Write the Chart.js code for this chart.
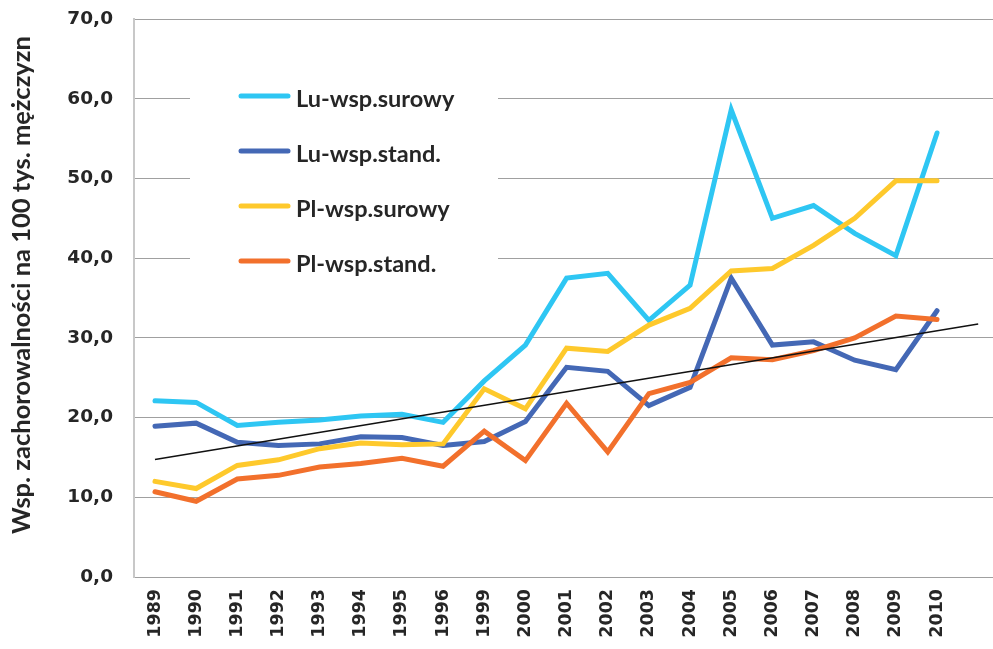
<!DOCTYPE html>
<html>
<head>
<meta charset="utf-8">
<script src="https://cdn.jsdelivr.net/npm/chart.js@4.4.1/dist/chart.umd.min.js"></script>
<style>
  html, body { margin: 0; padding: 0; background: #ffffff; }
  #wrap { width: 993px; height: 649px; }
</style>
</head>
<body>
<div id="wrap"><canvas id="chart" width="993" height="649"></canvas></div>
<script>
// Years on the horizontal axis (1997-1998 are absent from the series)
const years = ['1989', '1990', '1991', '1992', '1993', '1994', '1995', '1996', '1999', '2000',
               '2001', '2002', '2003', '2004', '2005', '2006', '2007', '2008', '2009', '2010'];

// Incidence per 100 thousand men
const luRaw = [22.1, 21.9, 19.0, 19.4, 19.7, 20.2, 20.4, 19.4, 24.6, 29.1,
               37.5, 38.1, 32.2, 36.6, 58.6, 45.0, 46.6, 43.1, 40.3, 55.7];
const luStd = [18.9, 19.3, 16.9, 16.5, 16.7, 17.6, 17.5, 16.5, 17.0, 19.5,
               26.3, 25.8, 21.5, 23.8, 37.5, 29.1, 29.5, 27.2, 26.0, 33.4];
const plRaw = [12.0, 11.1, 14.0, 14.7, 16.1, 16.8, 16.6, 16.7, 23.6, 21.1,
               28.7, 28.3, 31.6, 33.7, 38.4, 38.7, 41.6, 45.0, 49.7, 49.7];
const plStd = [10.7, 9.5, 12.3, 12.75, 13.8, 14.25, 14.9, 13.9, 18.3, 14.6,
               21.8, 15.7, 23.0, 24.4, 27.5, 27.25, 28.4, 30.0, 32.75, 32.3];

const seriesNames = ['Lu-wsp.surowy', 'Lu-wsp.stand.', 'Pl-wsp.surowy', 'Pl-wsp.stand.'];
const seriesColors = ['#2ec6f3', '#4468b5', '#fec92c', '#f2702c'];
const yTicks = [0, 10, 20, 30, 40, 50, 60, 70];
const yAxisTitle = 'Wsp. zachorowalności na 100 tys. mężczyzn';

// Linear least-squares trend of the standardised Lu series, extended one period forward
function linearTrend(values, forward) {
  const n = values.length;
  const mx = (n - 1) / 2;
  const my = values.reduce((a, b) => a + b, 0) / n;
  let sxy = 0, sxx = 0;
  values.forEach((v, i) => { sxy += (i - mx) * (v - my); sxx += (i - mx) * (i - mx); });
  const slope = sxy / sxx;
  const start = my - slope * mx;
  const endX = n - 1 + forward;
  return [{ x: 0, y: start }, { x: endX, y: start + slope * endX }];
}

const toPoints = arr => arr.map((v, i) => ({ x: i, y: v }));
const seriesData = [luRaw, luStd, plRaw, plStd];

const datasets = seriesData.map((arr, k) => ({
  label: seriesNames[k],
  data: toPoints(arr),
  borderColor: seriesColors[k],
  backgroundColor: seriesColors[k],
  borderWidth: 5,
  borderCapStyle: 'round',
  pointRadius: 0,
  tension: 0,
  order: 4 - k
}));
datasets.push({
  label: 'trend',
  isTrend: true,
  data: linearTrend(luStd, 1),
  borderColor: '#111111',
  borderWidth: 1.5,
  pointRadius: 0,
  tension: 0,
  order: 0
});

const textColor = '#262626';

// Legend drawn inside the plot on a white panel
const insetLegend = {
  id: 'insetLegend',
  beforeDatasetsDraw(chart) {
    const ctx = chart.ctx;
    ctx.save();
    ctx.fillStyle = '#ffffff';
    ctx.fillRect(190, 72, 308, 208);
    chart.data.datasets.filter(d => !d.isTrend).forEach((d, i) => {
      const y = 96 + i * 55;
      ctx.strokeStyle = d.borderColor;
      ctx.lineWidth = 5;
      ctx.lineCap = 'round';
      ctx.beginPath();
      ctx.moveTo(241, y);
      ctx.lineTo(288, y);
      ctx.stroke();
      ctx.fillStyle = textColor;
      ctx.font = 'bold 23.5px Lato';
      ctx.textAlign = 'left';
      ctx.textBaseline = 'alphabetic';
      ctx.fillText(d.label, 296, y + 11);
    });
    ctx.restore();
  }
};

// Rotated title of the vertical axis
const yTitle = {
  id: 'yTitle',
  afterDraw(chart) {
    const ctx = chart.ctx;
    ctx.save();
    ctx.translate(22, 285);
    ctx.rotate(-Math.PI / 2);
    ctx.fillStyle = textColor;
    ctx.font = 'bold 25.5px Lato';
    ctx.textAlign = 'center';
    ctx.textBaseline = 'middle';
    ctx.fillText(yAxisTitle, 0, 0);
    ctx.restore();
  }
};

new Chart(document.getElementById('chart'), {
  type: 'line',
  data: { datasets },
  options: {
    responsive: false,
    animation: false,
    layout: { padding: { top: 19, right: 0, bottom: 0, left: 0 } },
    plugins: { legend: { display: false }, tooltip: { enabled: false } },
    scales: {
      x: {
        type: 'linear',
        min: -0.51,
        max: 20.36,
        grid: { display: false, drawTicks: false },
        border: { display: false },
        afterBuildTicks: s => { s.ticks = years.map((_, i) => ({ value: i })); },
        afterFit: s => { s.height = 72; s.paddingLeft = 0; s.paddingRight = 0; },
        ticks: {
          autoSkip: false,
          minRotation: 90,
          maxRotation: 90,
          padding: 12,
          color: textColor,
          font: { family: 'DejaVu Sans', weight: 'bold', size: 17.5 },
          callback: v => years[v] ?? ''
        }
      },
      y: {
        min: 0,
        max: 70,
        afterBuildTicks: s => { s.ticks = yTicks.map(v => ({ value: v })); },
        afterFit: s => { s.width = 134; s.paddingTop = 0; s.paddingBottom = 0; },
        grid: { color: '#a0a0a0', lineWidth: 1, drawTicks: false },
        border: { display: true, color: '#c8c8c8', width: 2 },
        ticks: {
          padding: 21,
          color: textColor,
          font: { family: 'DejaVu Sans', weight: 'bold', size: 18.5 },
          callback: v => v.toFixed(1).replace('.', ',')
        }
      }
    }
  },
  plugins: [insetLegend, yTitle]
});
</script>
</body>
</html>
